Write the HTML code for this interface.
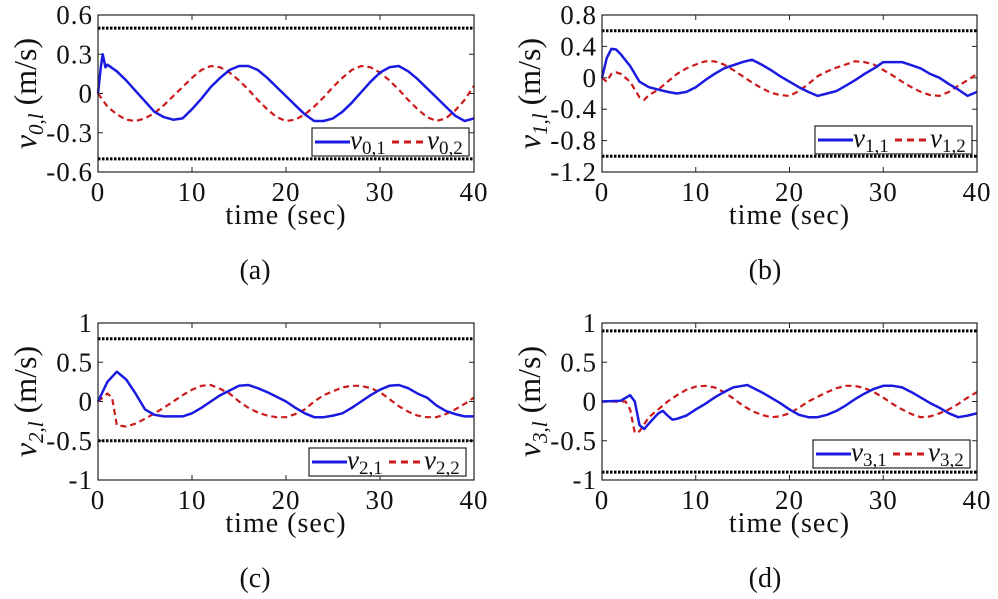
<!DOCTYPE html>
<html><head><meta charset="utf-8"><style>
body{margin:0;background:#fff;width:998px;height:599px;overflow:hidden}
svg{display:block}
text{font-family:"Liberation Serif",serif;fill:#111}
</style></head><body>
<svg id="fig" width="998" height="599" xmlns="http://www.w3.org/2000/svg"></svg>
<script>
// ---- data ----
const tA1=[0,0.3,0.5,0.8,1,2,3,4,5,6,7,8,9,10,11,12,13,14,15,16,17,18,19,20,21,22,23,24,25,26,27,28,29,30,31,32,33,34,35,36,37,38,39,40];
const vA1=[0,0.2,0.3,0.2,0.22,0.17,0.1,0.02,-0.06,-0.14,-0.18,-0.2,-0.19,-0.12,-0.04,0.05,0.12,0.18,0.21,0.21,0.18,0.12,0.05,-0.02,-0.09,-0.16,-0.21,-0.21,-0.19,-0.14,-0.07,0.01,0.09,0.16,0.2,0.21,0.17,0.11,0.04,-0.03,-0.1,-0.17,-0.21,-0.19];
const tA2=[0,1,2,3,4,5,6,7,8,9,10,11,12,13,14,15,16,17,18,19,20,21,22,23,24,25,26,27,28,29,30,31,32,33,34,35,36,37,38,39,40];
const vA2=[0,-0.1,-0.16,-0.2,-0.21,-0.19,-0.15,-0.09,-0.02,0.05,0.12,0.18,0.21,0.2,0.16,0.1,0.03,-0.05,-0.12,-0.18,-0.21,-0.2,-0.16,-0.1,-0.03,0.05,0.12,0.18,0.21,0.2,0.16,0.1,0.03,-0.05,-0.12,-0.18,-0.21,-0.19,-0.13,-0.05,0.06];
const tB1=[0,0.5,1,1.5,2,3,4,5,6,7,8,9,10,11,12,13,14,15,16,17,18,19,20,21,22,23,24,25,26,27,28,29,30,31,32,33,34,35,36,37,38,39,40];
const vB1=[0,0.25,0.37,0.36,0.3,0.15,-0.05,-0.12,-0.15,-0.18,-0.2,-0.18,-0.12,-0.03,0.05,0.12,0.16,0.2,0.23,0.17,0.1,0.02,-0.05,-0.12,-0.18,-0.23,-0.2,-0.17,-0.1,-0.03,0.05,0.12,0.2,0.2,0.2,0.16,0.12,0.05,0,-0.08,-0.15,-0.23,-0.18];
const tB2=[0,0.5,1,1.5,2,3,4,4.5,5,6,7,8,9,10,11,12,13,14,15,16,17,18,19,20,21,22,23,24,25,26,27,28,29,30,31,32,33,34,35,36,37,38,39,40];
const vB2=[0,-0.05,0.05,0.07,0.05,-0.05,-0.25,-0.28,-0.22,-0.15,-0.05,0.05,0.12,0.17,0.21,0.21,0.17,0.1,0.02,-0.06,-0.13,-0.19,-0.22,-0.23,-0.17,-0.08,0.02,0.08,0.13,0.17,0.21,0.2,0.17,0.1,0.03,-0.05,-0.12,-0.18,-0.22,-0.23,-0.18,-0.1,-0.03,0.05];
const tC1=[0,1,2,3,4,5,6,7,8,9,10,11,12,13,14,15,16,17,18,19,20,21,22,23,24,25,26,27,28,29,30,31,32,33,34,35,36,37,38,39,40];
const vC1=[0,0.25,0.38,0.28,0.1,-0.1,-0.17,-0.19,-0.19,-0.19,-0.15,-0.08,0,0.08,0.14,0.2,0.21,0.17,0.12,0.06,0,-0.08,-0.15,-0.2,-0.2,-0.18,-0.15,-0.08,0,0.08,0.15,0.2,0.21,0.17,0.1,0.05,-0.05,-0.12,-0.16,-0.19,-0.19];
const tC2=[0,1,1.5,2,3,4,5,6,7,8,9,10,11,12,13,14,15,16,17,18,19,20,21,22,23,24,25,26,27,28,29,30,31,32,33,34,35,36,37,38,39,40];
const vC2=[0,0.1,0.05,-0.3,-0.32,-0.28,-0.22,-0.15,-0.08,0,0.08,0.15,0.2,0.21,0.16,0.1,0,-0.08,-0.14,-0.18,-0.2,-0.2,-0.16,-0.1,0,0.08,0.13,0.18,0.2,0.2,0.17,0.12,0.03,-0.06,-0.13,-0.18,-0.2,-0.2,-0.16,-0.1,-0.03,0.05];
const tD1=[0,2,3,3.5,4,4.5,5,6,6.5,7,7.5,8,9,10,11,12,13,14,15,15.5,16,17,18,19,20,21,22,23,24,25,26,27,28,29,30,31,32,33,34,35,36,37,38,39,40];
const vD1=[0,0.01,0.08,0,-0.3,-0.35,-0.28,-0.15,-0.12,-0.18,-0.23,-0.22,-0.18,-0.1,-0.03,0.05,0.12,0.18,0.2,0.21,0.18,0.12,0.05,-0.02,-0.1,-0.17,-0.2,-0.2,-0.17,-0.12,-0.05,0.03,0.1,0.16,0.2,0.2,0.18,0.12,0.05,-0.02,-0.08,-0.15,-0.2,-0.18,-0.15];
const tD2=[0,2.5,3,3.5,4,5,6,7,8,9,10,11,12,13,14,15,16,17,18,19,20,21,22,23,24,25,26,27,28,29,30,31,32,33,34,35,36,37,38,39,40];
const vD2=[0,0,-0.1,-0.4,-0.38,-0.2,-0.1,0,0.08,0.15,0.19,0.2,0.18,0.12,0.04,-0.05,-0.12,-0.17,-0.2,-0.19,-0.15,-0.08,0,0.06,0.12,0.17,0.2,0.2,0.17,0.12,0.05,-0.03,-0.1,-0.16,-0.2,-0.19,-0.15,-0.1,-0.03,0.05,0.12];
const xTicks=[0,10,20,30,40];
const yTicksA=[0.6,0.3,0,-0.3,-0.6], yLabelsA=["0.6","0.3","0","-0.3","-0.6"];
const yTicksB=[0.8,0.4,0,-0.4,-0.8,-1.2], yLabelsB=["0.8","0.4","0","-0.4","-0.8","-1.2"];
const yTicksC=[1,0.5,0,-0.5,-1], yLabelsC=["1","0.5","0","-0.5","-1"];
const yTicksD=[1,0.5,0,-0.5,-1], yLabelsD=["1","0.5","0","-0.5","-1"];
const boundsA=[0.5,-0.5], boundsB=[0.6,-1.0], boundsC=[0.8,-0.5], boundsD=[0.9,-0.9];

const NS="http://www.w3.org/2000/svg";
const svg=document.getElementById('fig');
function el(tag,attrs,parent){const e=document.createElementNS(NS,tag);for(const k in attrs)e.setAttribute(k,attrs[k]);(parent||svg).appendChild(e);return e;}

function panel(p){
  const g=el('g',{});
  
  
  const X=t=>p.x0+(t-0)/(40-0)*(p.x1-p.x0);
  const Y=v=>p.y1-(v-p.ymin)/(p.ymax-p.ymin)*(p.y1-p.y0);
  xTicks.forEach(t=>{
    el('line',{x1:X(t),x2:X(t),y1:p.y1,y2:p.y1-5,stroke:'#222','stroke-width':1},g);
    el('line',{x1:X(t),x2:X(t),y1:p.y0,y2:p.y0+5,stroke:'#222','stroke-width':1},g);
    const tx=el('text',{x:X(t),y:p.y1+29,'text-anchor':'middle','font-size':27,'letter-spacing':1},g);
    tx.textContent=t;
    
    
  });
  p.yt.forEach((v,i)=>{
    el('line',{x1:p.x0,x2:p.x0+5,y1:Y(v),y2:Y(v),stroke:'#222','stroke-width':1},g);
    el('line',{x1:p.x1,x2:p.x1-5,y1:Y(v),y2:Y(v),stroke:'#222','stroke-width':1},g);
    const tx=el('text',{x:p.x0-5,y:Y(v)+9,'text-anchor':'end','font-size':27,'letter-spacing':1},g);
    tx.textContent=p.yl[i];
    
    
  });
  p.b.forEach(v=>{
    const l=el('line',{x1:p.x0,x2:p.x1,y1:Y(v),y2:Y(v),stroke:'#000','stroke-width':3,'stroke-dasharray':'2.5 1.5'},g);
    
    
  });
  const path=(ts,vs)=>ts.map((t,i)=>(i?'L':'M')+X(t).toFixed(1)+','+Y(vs[i]).toFixed(1)).join('');
  const s2=el('path',{d:path(p.t2,p.v2),fill:'none',stroke:'#cc1a1a','stroke-width':2.2,'stroke-dasharray':'6 4'},g);
  
  
  const s1=el('path',{d:path(p.t1,p.v1),fill:'none',stroke:'#1a1ae0','stroke-width':2.5,'stroke-linejoin':'round'},g);
  
  
  el('rect',{x:p.x0,y:p.y0,width:p.x1-p.x0,height:p.y1-p.y0,fill:'none',stroke:'#222','stroke-width':1.2},g);
  const lg=el('g',{},g);
  
  
  const L=p.leg;
  el('rect',{x:L[0],y:L[1],width:157,height:28,fill:'#fff',stroke:'#222','stroke-width':1.2},lg);
  const my=L[1]+14;
  el('line',{x1:L[0]+3,x2:L[0]+38,y1:my,y2:my,stroke:'#1a1ae0','stroke-width':3},lg);
  el('line',{x1:L[0]+80,x2:L[0]+114,y1:my,y2:my,stroke:'#cc1a1a','stroke-width':3,'stroke-dasharray':'7 5'},lg);
  const t1=el('text',{x:L[0]+38,y:my+7,'font-size':27,'font-style':'italic'},lg);
  t1.innerHTML='v<tspan font-size="19" dy="5" font-style="normal">'+p.n+',1</tspan>';
  const t2=el('text',{x:L[0]+115,y:my+7,'font-size':27,'font-style':'italic'},lg);
  t2.innerHTML='v<tspan font-size="19" dy="5" font-style="normal">'+p.n+',2</tspan>';
  const xl=el('text',{x:(p.x0+p.x1)/2,y:p.y1+52,'text-anchor':'middle','font-size':28,'letter-spacing':1},g);
  xl.textContent='time (sec)';
  
  
  const cy=(p.y0+p.y1)/2;
  const yl=el('text',{x:0,y:0,'text-anchor':'middle','font-size':32,transform:'translate('+(p.x0-62)+','+cy+') rotate(-90)'},g);
  yl.innerHTML='<tspan font-style="italic">v</tspan><tspan font-size="21" dy="7" font-style="italic">'+p.n+',l</tspan><tspan dy="-7"> (m/s)</tspan>';
  
  
  const cap=el('text',{x:p.capx,y:p.capy,'text-anchor':'middle','font-size':28},g);
  cap.textContent='('+p.id+')';
  
  
}
panel({id:'a',n:0,x0:98,x1:474,y0:15,y1:172,ymin:-0.6,ymax:0.6,yt:yTicksA,yl:yLabelsA,b:boundsA,t1:tA1,v1:vA1,t2:tA2,v2:vA2,leg:[312,128],capx:255,capy:279});
panel({id:'b',n:1,x0:602,x1:977,y0:15,y1:172,ymin:-1.2,ymax:0.8,yt:yTicksB,yl:yLabelsB,b:boundsB,t1:tB1,v1:vB1,t2:tB2,v2:vB2,leg:[815,126],capx:765,capy:279});
panel({id:'c',n:2,x0:98,x1:474,y0:323,y1:480,ymin:-1,ymax:1,yt:yTicksC,yl:yLabelsC,b:boundsC,t1:tC1,v1:vC1,t2:tC2,v2:vC2,leg:[309,448],capx:255,capy:587});
panel({id:'d',n:3,x0:602,x1:977,y0:323,y1:480,ymin:-1,ymax:1,yt:yTicksD,yl:yLabelsD,b:boundsD,t1:tD1,v1:vD1,t2:tD2,v2:vD2,leg:[813,440],capx:765,capy:587});
</script>
</body></html>
